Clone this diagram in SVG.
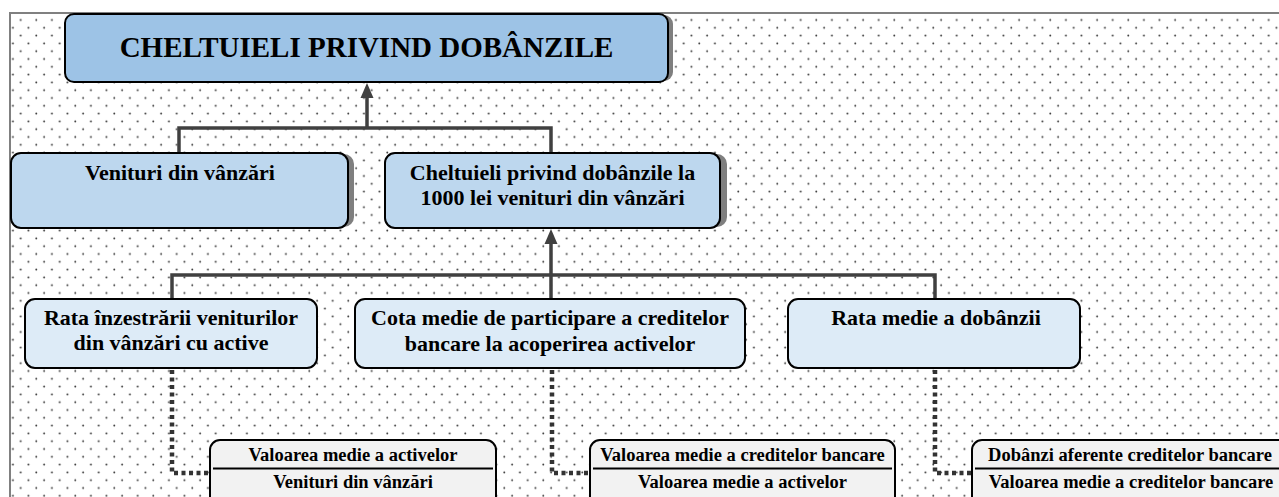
<svg xmlns="http://www.w3.org/2000/svg" width="1279" height="497" viewBox="0 0 1279 497">
<style>
text{font-family:"Liberation Serif","Times New Roman",serif;font-weight:bold;fill:#000;text-anchor:middle}
.t0{font-size:29px}
.t1{font-size:22px}
.t2{font-size:18.5px}
.box{stroke:#000;stroke-width:2}
.shadow{fill:#7f7f7f}
.solid{stroke:#404040;stroke-width:3.5;fill:none}
.dot{stroke:#333;stroke-width:4.5;fill:none;stroke-dasharray:4 3.5}
.frac{stroke:#000;stroke-width:2}
</style>
<defs>
<pattern id="dots" patternUnits="userSpaceOnUse" x="0" y="0" width="15.6" height="15.6">
<circle cx="5.1" cy="4.4" r="0.95" fill="#333"/>
<circle cx="12.9" cy="12.2" r="0.95" fill="#333"/>
</pattern>
</defs>
<rect x="0" y="0" width="1279" height="497" fill="#fff"/>
<rect x="10" y="13" width="1290" height="500" fill="url(#dots)" stroke="#808080" stroke-width="2"/>

<g id="connectors">
<path class="solid" d="M367,97 V128 M179,153 V128 H551 V153"/>
<polygon points="367,83 360.5,98 373.5,98" fill="#404040"/>
<path class="solid" d="M551,243 V275 M172,299 V275 H935 V299 M551,275 V299"/>
<polygon points="551,229 544.5,244 557.5,244" fill="#404040"/>
<path class="dot" d="M172,370 V473 H212"/>
<path class="dot" d="M552,370 V473 H592"/>
<path class="dot" d="M935,370 V473 H974"/>
</g>

<g id="title">
<rect class="shadow" x="70" y="15" width="603" height="66" rx="9"/>
<rect class="box" x="65" y="14" width="603" height="68" rx="9" fill="#9DC3E6"/>
<text class="t0" x="366.5" y="57">CHELTUIELI PRIVIND DOBÂNZILE</text>
</g>

<g id="venituri">
<rect class="shadow" x="17" y="154" width="337" height="73" rx="10"/>
<rect class="box" x="11" y="153" width="337" height="75" rx="10" fill="#BDD7EE"/>
<text class="t1" x="180" y="180">Venituri din vânzări</text>
</g>

<g id="cheltuieli1000">
<rect class="shadow" x="392" y="154" width="335" height="73" rx="10"/>
<rect class="box" x="385" y="153" width="335" height="75" rx="10" fill="#BDD7EE"/>
<text class="t1" x="552.5" y="180">Cheltuieli privind dobânzile la</text>
<text class="t1" x="552.5" y="205">1000 lei venituri din vânzări</text>
</g>

<g id="rataInzestrarii">
<rect class="box" x="25" y="299" width="292" height="69" rx="10" fill="#DDEBF7"/>
<text class="t1" x="171" y="325">Rata înzestrării veniturilor</text>
<text class="t1" x="171" y="350">din vânzări cu active</text>
</g>

<g id="cotaMedie">
<rect class="box" x="355" y="299" width="390" height="69" rx="10" fill="#DDEBF7"/>
<text class="t1" x="550" y="325">Cota medie de participare a creditelor</text>
<text class="t1" x="550" y="351">bancare la acoperirea activelor</text>
</g>

<g id="rataDobanzii">
<rect class="box" x="788" y="299" width="292" height="69" rx="10" fill="#DDEBF7"/>
<text class="t1" x="936" y="325">Rata medie a dobânzii</text>
</g>

<g id="frac1">
<rect class="box" x="210" y="440" width="286" height="80" rx="10" fill="#F2F2F2" stroke-width="1.5"/>
<line class="frac" x1="213" y1="468.5" x2="493" y2="468.5"/>
<text class="t2" x="353" y="461">Valoarea medie a activelor</text>
<text class="t2" x="353" y="488">Venituri din vânzări</text>
</g>

<g id="frac2">
<rect class="box" x="590" y="440" width="305" height="80" rx="10" fill="#F2F2F2" stroke-width="1.5"/>
<line class="frac" x1="593" y1="468.5" x2="892" y2="468.5"/>
<text class="t2" x="742.5" y="461">Valoarea medie a creditelor bancare</text>
<text class="t2" x="742.5" y="488">Valoarea medie a activelor</text>
</g>

<g id="frac3">
<rect class="box" x="972" y="440" width="330" height="80" rx="10" fill="#F2F2F2" stroke-width="1.5"/>
<line class="frac" x1="975" y1="468.5" x2="1290" y2="468.5"/>
<text class="t2" x="1130" y="461">Dobânzi aferente creditelor bancare</text>
<text class="t2" x="1131" y="488">Valoarea medie a creditelor bancare</text>
</g>
</svg>
